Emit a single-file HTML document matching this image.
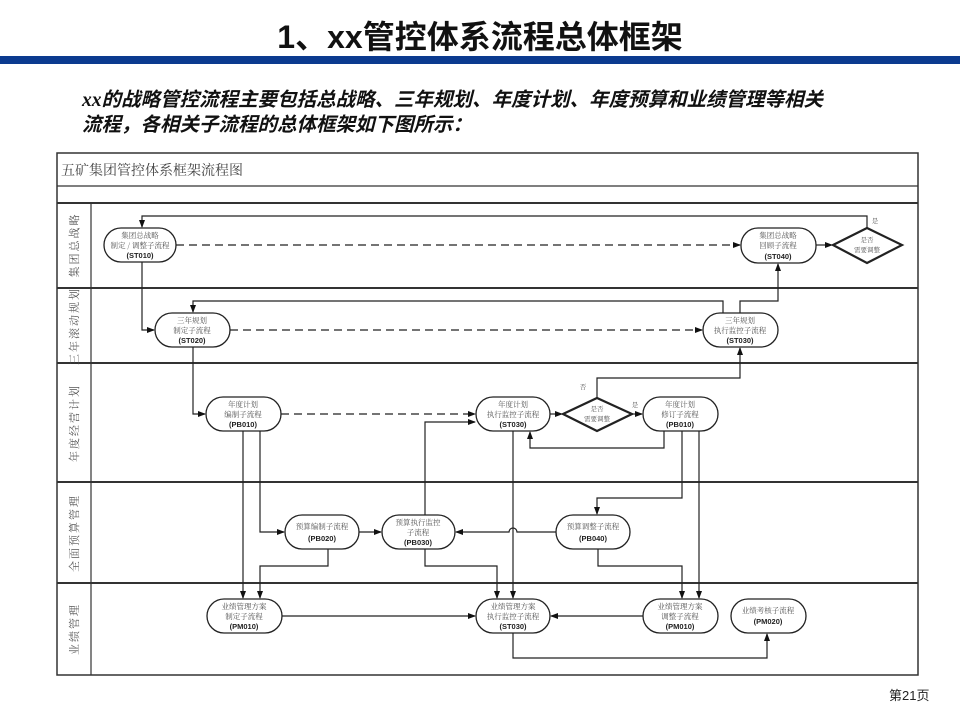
<!DOCTYPE html>
<html><head><meta charset="utf-8"><style>
html,body{margin:0;padding:0;background:#fff;}
body{width:960px;height:720px;position:relative;overflow:hidden;font-family:"Liberation Sans","Noto Sans CJK SC",sans-serif;}
.t{position:absolute;left:0;width:960px;top:12px;text-align:center;font-size:32px;font-weight:bold;color:#111;font-family:"Liberation Sans","Noto Sans CJK SC",sans-serif;}
.bar{position:absolute;left:0;top:56px;width:960px;height:8px;background:#0b3a8f;}
.sub{position:absolute;left:82px;top:88px;font-size:19.5px;font-weight:bold;font-style:italic;line-height:25px;color:#111;}
.pg{position:absolute;left:889px;top:685px;font-size:13px;color:#222;}
svg{position:absolute;left:0;top:0;}
</style></head><body>
<div class="t">1、xx管控体系流程总体框架</div>
<div class="bar"></div>
<div class="sub"><span style="font-family:'Liberation Serif',serif;">xx</span>的战略管控流程主要包括总战略、三年规划、年度计划、年度预算和业绩管理等相关<br>流程，各相关子流程的总体框架如下图所示：</div>
<div class="pg">第21页</div>
<svg width="960" height="720" viewBox="0 0 960 720">
<defs><marker id="a" markerWidth="8" markerHeight="6" refX="7" refY="3" orient="auto" markerUnits="userSpaceOnUse"><path d="M0,0 L8,3 L0,6 z" fill="#111"/></marker></defs>
<g fill="none" stroke="#333">
<rect x="57" y="153" width="861" height="522" stroke-width="1.5"/>
<line x1="57" y1="186" x2="918" y2="186" stroke-width="1.2"/>
<line x1="57" y1="203" x2="918" y2="203" stroke-width="2"/>
<line x1="57" y1="288" x2="918" y2="288" stroke-width="2"/>
<line x1="57" y1="363" x2="918" y2="363" stroke-width="2"/>
<line x1="57" y1="482" x2="918" y2="482" stroke-width="2"/>
<line x1="57" y1="583" x2="918" y2="583" stroke-width="2"/>
<line x1="91" y1="203" x2="91" y2="675" stroke-width="1.2"/>
</g>
<text x="61" y="175" font-size="14" fill="#444" font-family="'Noto Serif CJK SC',serif">五矿集团管控体系框架流程图</text>
<g font-size="11" fill="#555" font-family="'Noto Serif CJK SC',serif" text-anchor="middle" letter-spacing="2">
<text transform="translate(78,245) rotate(-90)">集团总战略</text>
<text transform="translate(78,326) rotate(-90)">三年滚动规划</text>
<text transform="translate(78,423) rotate(-90)">年度经营计划</text>
<text transform="translate(78,533) rotate(-90)">全面预算管理</text>
<text transform="translate(78,629) rotate(-90)">业绩管理</text>
</g>
<g fill="none" stroke="#222" stroke-width="1.2">
<g stroke-dasharray="8,5">
<path d="M176,245 H740" marker-end="url(#a)"/>
<path d="M230,330 H702" marker-end="url(#a)"/>
<path d="M281,414 H475" marker-end="url(#a)"/>
</g>
<path d="M867,229 V216 H142 V227" marker-end="url(#a)"/>
<path d="M816,245 H832" marker-end="url(#a)"/>
<path d="M142,262 V330 H154" marker-end="url(#a)"/>
<path d="M723,313 V301 H193 V312" marker-end="url(#a)"/>
<path d="M740,313 V301 H778 V264" marker-end="url(#a)"/>
<path d="M193,347 V414 H205" marker-end="url(#a)"/>
<path d="M550,414 H562" marker-end="url(#a)"/>
<path d="M597,398 V378 H740 V348" marker-end="url(#a)"/>
<path d="M632,414 H642" marker-end="url(#a)"/>
<path d="M664,431 V448 H530 V432" marker-end="url(#a)"/>
<path d="M425,515 V422 H475" marker-end="url(#a)"/>
<path d="M682,431 V498 H597 V514" marker-end="url(#a)"/>
<path d="M699,431 V598" marker-end="url(#a)"/>
<path d="M598,549 V566 H682 V598" marker-end="url(#a)"/>
<path d="M556,532 H517 A4,4 0 0 0 509,532 H456" marker-end="url(#a)"/>
<path d="M513,431 V598" marker-end="url(#a)"/>
<path d="M243,431 V598" marker-end="url(#a)"/>
<path d="M260,431 V532 H284" marker-end="url(#a)"/>
<path d="M359,532 H381" marker-end="url(#a)"/>
<path d="M328,549 V566 H260 V598" marker-end="url(#a)"/>
<path d="M425,549 V566 H497 V598" marker-end="url(#a)"/>
<path d="M282,616 H475" marker-end="url(#a)"/>
<path d="M643,616 H551" marker-end="url(#a)"/>
<path d="M513,633 V658 H767 V634" marker-end="url(#a)"/>
</g>
<g fill="#fff" stroke="#222" stroke-width="1.3">
<rect x="104" y="228" width="72" height="34" rx="17"/>
<rect x="155" y="313" width="75" height="34" rx="17"/>
<rect x="206" y="397" width="75" height="34" rx="17"/>
<rect x="476" y="397" width="74" height="34" rx="17"/>
<rect x="643" y="397" width="75" height="34" rx="17"/>
<rect x="741" y="228" width="75" height="35" rx="17"/>
<rect x="703" y="313" width="75" height="34" rx="17"/>
<rect x="285" y="515" width="74" height="34" rx="17"/>
<rect x="382" y="515" width="73" height="34" rx="17"/>
<rect x="556" y="515" width="74" height="34" rx="17"/>
<rect x="207" y="599" width="75" height="34" rx="17"/>
<rect x="476" y="599" width="74" height="34" rx="17"/>
<rect x="643" y="599" width="75" height="34" rx="17"/>
<rect x="731" y="599" width="75" height="34" rx="17"/>
<path d="M563,414 L597,398 L632,414 L597,431 Z" stroke-width="2.2"/>
<path d="M833,245 L867,228 L902,245 L867,263 Z" stroke-width="2.2"/>
</g>
<g font-size="7.5" fill="#555" text-anchor="middle" font-family="'Noto Serif CJK SC',serif">
<text x="140" y="238">集团总战略</text><text x="140" y="248">制定 / 调整子流程</text>
<text x="192" y="323">三年规划</text><text x="192" y="333">制定子流程</text>
<text x="243" y="407">年度计划</text><text x="243" y="417">编制子流程</text>
<text x="513" y="407">年度计划</text><text x="513" y="417">执行监控子流程</text>
<text x="680" y="407">年度计划</text><text x="680" y="417">修订子流程</text>
<text x="778" y="238">集团总战略</text><text x="778" y="248">回顾子流程</text>
<text x="740" y="323">三年规划</text><text x="740" y="333">执行监控子流程</text>
<text x="322" y="529">预算编制子流程</text>
<text x="418" y="525">预算执行监控</text><text x="418" y="535">子流程</text>
<text x="593" y="529">预算调整子流程</text>
<text x="244" y="609">业绩管理方案</text><text x="244" y="619">制定子流程</text>
<text x="513" y="609">业绩管理方案</text><text x="513" y="619">执行监控子流程</text>
<text x="680" y="609">业绩管理方案</text><text x="680" y="619">调整子流程</text>
<text x="768" y="613">业绩考核子流程</text>
<g font-size="6.5"><text x="597" y="411">是否</text><text x="597" y="421">需要调整</text>
<text x="867" y="242">是否</text><text x="867" y="252">需要调整</text>
<text x="583" y="389">否</text><text x="635" y="407">是</text><text x="875" y="223">是</text></g>
</g>
<g font-size="7.5" fill="#222" text-anchor="middle" font-family="'Liberation Sans',sans-serif" font-weight="bold">
<text x="140" y="258">(ST010)</text><text x="192" y="343">(ST020)</text><text x="243" y="427">(PB010)</text>
<text x="513" y="427">(ST030)</text><text x="680" y="427">(PB010)</text><text x="778" y="259">(ST040)</text>
<text x="740" y="343">(ST030)</text><text x="322" y="541">(PB020)</text><text x="418" y="545">(PB030)</text>
<text x="593" y="541">(PB040)</text><text x="244" y="629">(PM010)</text><text x="513" y="629">(ST030)</text>
<text x="680" y="629">(PM010)</text><text x="768" y="624">(PM020)</text>
</g>
</svg>
</body></html>
